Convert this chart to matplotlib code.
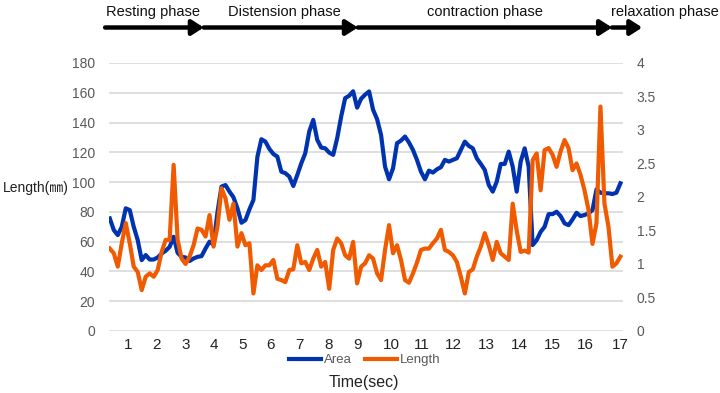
import matplotlib
matplotlib.use("Agg")
import matplotlib.pyplot as plt

# ---------------- data ----------------
area = [75.6, 67.8, 64.4, 70.0, 82.4, 81.2, 70.0, 61.0, 47.6, 51.0,
        48.0, 48.0, 49.4, 52.0, 53.9, 56.5, 63.3, 52.5, 49.8, 49.4,
        47.0, 48.7, 49.8, 50.3, 55.4, 60.0, 58.0, 80.0, 97.0, 98.0,
        93.6, 89.8, 82.4, 72.7, 74.5, 81.7, 88.0, 117.0, 128.8, 127.2,
        122.3, 118.9, 117.1, 107.0, 106.0, 103.7, 97.4, 104.8, 112.6, 119.4,
        134.0, 141.8, 128.4, 123.2, 122.7, 119.8, 118.3, 129.5, 144.0, 156.4,
        158.0, 161.0, 150.0, 156.0, 158.7, 160.9, 148.6, 142.3, 131.7, 110.4,
        101.9, 109.3, 126.1, 127.9, 130.6, 126.6, 121.6, 114.9, 107.0, 101.9,
        107.7, 106.4, 108.6, 110.0, 114.9, 113.8, 114.9, 116.0, 121.6, 127.2,
        124.3, 122.7, 116.0, 112.2, 108.2, 98.1, 93.6, 100.3, 112.2, 112.2,
        120.5, 110.4, 93.6, 113.8, 122.7, 110.4, 57.7, 61.0, 66.6, 70.0,
        78.5, 78.5, 80.1, 77.2, 72.3, 71.1, 74.9, 79.4, 77.2, 77.9,
        79.0, 81.2, 95.1, 92.9, 92.5, 92.5, 92.0, 92.9, 99.2]

length = [1.23, 1.16, 0.96, 1.31, 1.61, 1.31, 0.96, 0.88, 0.61, 0.81,
          0.86, 0.81, 0.91, 1.18, 1.36, 1.36, 2.48, 1.36, 1.08, 1.00,
          1.11, 1.28, 1.53, 1.51, 1.41, 1.73, 1.26, 1.56, 2.13, 1.98,
          1.66, 1.90, 1.26, 1.46, 1.28, 1.31, 0.56, 0.98, 0.91, 0.98,
          0.98, 1.06, 0.78, 0.76, 0.73, 0.91, 0.92, 1.28, 1.01, 1.03,
          0.91, 1.08, 1.21, 0.96, 1.03, 0.63, 1.21, 1.38, 1.31, 1.13,
          1.08, 1.33, 0.71, 0.96, 1.01, 1.13, 1.08, 0.86, 0.76, 1.21,
          1.58, 1.16, 1.28, 1.06, 0.76, 0.72, 0.86, 1.02, 1.21, 1.23,
          1.23, 1.31, 1.38, 1.51, 1.21, 1.18, 1.13, 1.03, 0.81, 0.56,
          0.88, 0.92, 1.11, 1.26, 1.46, 1.28, 1.06, 1.33, 1.16, 1.11,
          1.06, 1.90, 1.50, 1.18, 1.20, 1.17, 2.55, 2.65, 2.10, 2.70,
          2.73, 2.63, 2.45, 2.68, 2.85, 2.73, 2.40, 2.50, 2.33, 2.10,
          1.81, 1.30, 1.61, 3.35, 1.90, 1.56, 0.96, 1.01, 1.11]

# sample index at which each whole second is labelled
tick_pos = [4.5, 11.75, 19, 26, 33.25, 40.25, 47.5, 54.75, 62,
            70.5, 78.25, 86.25, 94.5, 102.75, 111, 119.25, 128]
tick_labels = [str(s) for s in range(1, 18)]

left_ticks = [0, 20, 40, 60, 80, 100, 120, 140, 160, 180]
right_ticks = [0, 0.5, 1, 1.5, 2, 2.5, 3, 3.5, 4]
right_tick_labels = ["0", "0.5", "1", "1.5", "2", "2.5", "3", "3.5", "4"]

phases = ["Resting phase", "Distension phase", "contraction phase", "relaxation phase"]

# ---------------- style ----------------
plt.rcParams['font.family'] = ['Liberation Sans', 'Noto Sans CJK JP', 'DejaVu Sans']

BLUE = "#0033B0"
ORANGE = "#F05A00"
GRID = "#D9D9D9"
TXT = "#595959"

fig = plt.figure(figsize=(7.2, 3.93), dpi=100)
ax = fig.add_axes([0.1514, 0.1578, 0.7136, 0.6819])
ax2 = ax.twinx()

x = list(range(len(area)))
ax.plot(x, area, color=BLUE, lw=3.0, solid_joinstyle='round', zorder=3, label="Area")
ax2.plot(x, length, color=ORANGE, lw=3.0, solid_joinstyle='round', zorder=3, label="Length")

ax.set_xlim(-0.2, 128.6)
ax.set_ylim(0, 180)
ax2.set_ylim(0, 4)

ax.set_yticks(left_ticks)
ax.set_yticklabels([str(v) for v in left_ticks], color=TXT, fontsize=10)
ax2.set_yticks(right_ticks)
ax2.set_yticklabels(right_tick_labels, color=TXT, fontsize=10)
ax.set_xticks(tick_pos)
ax.set_xticklabels(tick_labels, color="#222222", fontsize=11)

ax.grid(axis='y', color=GRID, lw=1.2)
ax.set_axisbelow(True)
for a in (ax, ax2):
    for s in a.spines.values():
        s.set_visible(False)
    a.tick_params(length=0)
ax.tick_params(axis='y', pad=10)
ax2.tick_params(axis='y', pad=10)
ax.tick_params(axis='x', pad=5)

fig.text(0.004, 0.522, "Length(㎜)", fontsize=10, color="#222222",
         ha='left', va='center')

h1, l1 = ax.get_legend_handles_labels()
h2, l2 = ax2.get_legend_handles_labels()
fig.legend(h1 + h2, l1 + l2, loc='center', bbox_to_anchor=(0.507, 0.083),
           ncol=2, frameon=False, fontsize=9.5, handlelength=2.4,
           handletextpad=0.25, columnspacing=1.0, labelcolor=TXT)
fig.text(0.505, 0.026, "Time(sec)", fontsize=11.5, ha='center', va='center',
         color="#222222")

# phase arrows at the top (figure fraction)
arrow_x = [(0.146, 0.283), (0.283, 0.497), (0.497, 0.850), (0.850, 0.892)]
text_x = [0.213, 0.395, 0.674, 0.924]
ay = 0.930
for (x0, x1), tx, name in zip(arrow_x, text_x, phases):
    fig.add_artist(matplotlib.patches.FancyArrowPatch(
        (x0, ay), (x1, ay), transform=fig.transFigure,
        arrowstyle='-|>,head_length=7,head_width=4.5', mutation_scale=1,
        color='black', lw=3.2, shrinkA=0, shrinkB=0))
    fig.text(tx, 0.970, name, fontsize=10.5, ha='center', va='center', color='#111111')

fig.savefig("out.png", dpi=100)
